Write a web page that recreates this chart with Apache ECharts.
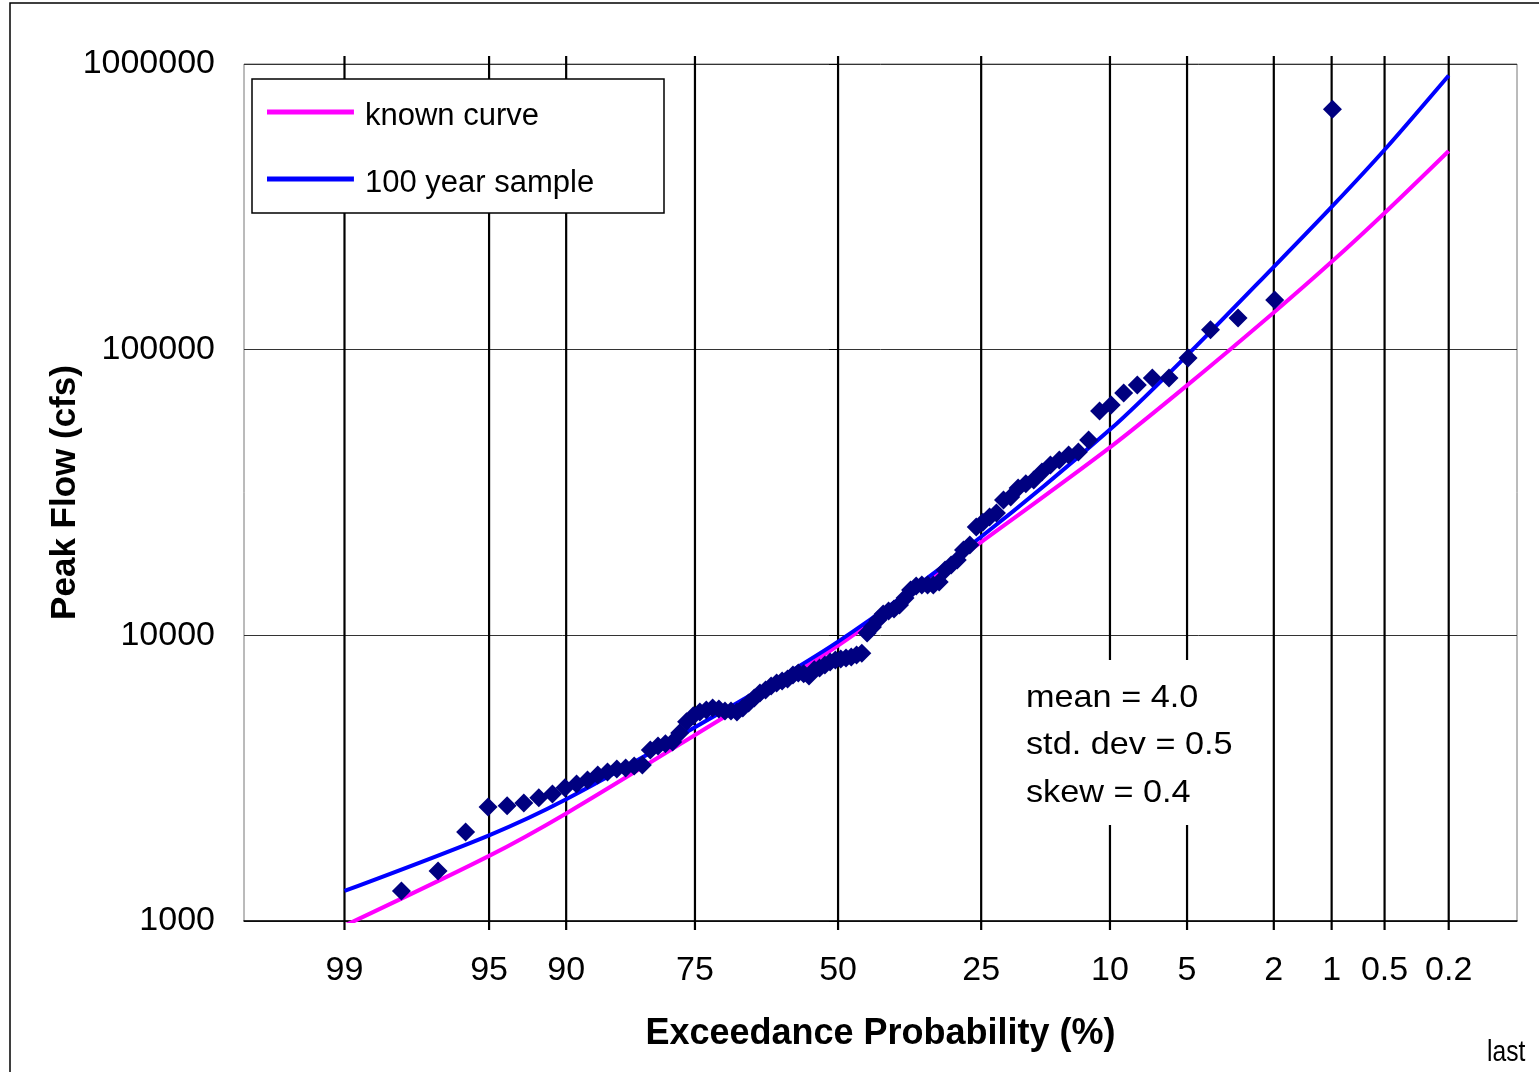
<!DOCTYPE html>
<html><head><meta charset="utf-8">
<script src="https://cdn.jsdelivr.net/npm/echarts@6/dist/echarts.min.js"></script>
<style>html,body{margin:0;padding:0;background:#fff}#c{width:1539px;height:1072px}</style>
</head><body><div id="c"></div>
<script>
// exceedance probability grid lines (%) and their labels
const probTicks = [99, 95, 90, 75, 50, 25, 10, 5, 2, 1, 0.5, 0.2];
const probTickLabels = ['99', '95', '90', '75', '50', '25', '10', '5', '2', '1', '0.5', '0.2'];
const flowTicks = [1000, 10000, 100000, 1000000];
// fitted curves read at each probability line (cfs)
const knownCurve = [963, 1690, 2380, 4480, 9200, 21200, 45500, 75000, 135000, 203000, 301000, 496000];
const sampleCurve = [1274, 1995, 2667, 4764, 9506, 22130, 52500, 95500, 195000, 316000, 501000, 912000];
// sample points: exceedance probability (%) and peak flow (cfs)
const sampleProb = [0.99,1.98,2.97,3.96,4.95,5.94,6.93,7.92,8.91,9.90,10.89,11.88,12.87,13.86,14.85,15.84,16.83,17.82,18.81,19.80,20.79,21.78,22.77,23.76,24.75,25.74,26.73,27.72,28.71,29.70,30.69,31.68,32.67,33.66,34.65,35.64,36.63,37.62,38.61,39.60,40.59,41.58,42.57,43.56,44.55,45.54,46.53,47.52,48.51,49.50,50.50,51.49,52.48,53.47,54.46,55.45,56.44,57.43,58.42,59.41,60.40,61.39,62.38,63.37,64.36,65.35,66.34,67.33,68.32,69.31,70.30,71.29,72.28,73.27,74.26,75.25,76.24,77.23,78.22,79.21,80.20,81.19,82.18,83.17,84.16,85.15,86.14,87.13,88.12,89.11,90.10,91.09,92.08,93.07,94.06,95.05,96.04,97.03,98.02];
const sampleFlow = [695000,149300,129000,117300,93500,79600,79600,75200,70500,64000,60950,48300,43850,42800,41100,39500,37300,35000,33900,32800,30500,29750,26800,25950,24900,23950,20700,19900,18350,17640,16940,15380,15000,15000,15000,14890,14420,13520,12770,12370,12170,11880,11320,10690,10190,8660,8530,8400,8330,8265,8200,8070,7870,7690,7570,7210,7330,7385,7265,7035,6925,6810,6650,6440,6285,6035,5800,5570,5395,5435,5435,5520,5570,5480,5395,5225,4980,4550,4235,4170,4100,3970,3515,3490,3435,3405,3325,3245,3115,3020,2925,2785,2700,2590,2530,2508,2050,1496,1274];

// normal probability scale: exceedance % -> standard normal variate
function invNorm(p) {
  const a=[-3.969683028665376e+01,2.209460984245205e+02,-2.759285104469687e+02,1.383577518672690e+02,-3.066479806614716e+01,2.506628277459239e+00];
  const b=[-5.447609879822406e+01,1.615858368580409e+02,-1.556989798598866e+02,6.680131188771972e+01,-1.328068155288572e+01];
  const c=[-7.784894002430293e-03,-3.223964580411365e-01,-2.400758277161838e+00,-2.549671010739305e+00,4.374664141464968e+00,2.938163982698783e+00];
  const d=[7.784695709041462e-03,3.224671290700398e-01,2.445134137142996e+00,3.754408160336069e+00];
  const pl=0.02425, ph=1-pl; let q, r;
  if (p < pl) { q=Math.sqrt(-2*Math.log(p)); return (((((c[0]*q+c[1])*q+c[2])*q+c[3])*q+c[4])*q+c[5])/((((d[0]*q+d[1])*q+d[2])*q+d[3])*q+1); }
  if (p <= ph) { q=p-0.5; r=q*q; return (((((a[0]*r+a[1])*r+a[2])*r+a[3])*r+a[4])*r+a[5])*q/(((((b[0]*r+b[1])*r+b[2])*r+b[3])*r+b[4])*r+1); }
  q=Math.sqrt(-2*Math.log(1-p)); return -(((((c[0]*q+c[1])*q+c[2])*q+c[3])*q+c[4])*q+c[5])/((((d[0]*q+d[1])*q+d[2])*q+d[3])*q+1);
}
const zOf = e => invNorm(1 - e / 100);
const tickZ = probTicks.map(zOf);

const ARIAL = "'Liberation Sans',Arial,sans-serif";

const chart = echarts.init(document.getElementById('c'), null, {renderer: 'canvas'});
chart.setOption({
  animation: false,
  backgroundColor: '#fff',
  grid: {left: 244, right: 22, top: 64, bottom: 151, show: true, borderColor: '#777', borderWidth: 1},
  xAxis: {
    type: 'value', min: -2.8, max: 3.2,
    name: 'Exceedance Probability (%)', nameLocation: 'middle', nameGap: 95, nameMoveOverlap: false,
    nameTextStyle: {fontFamily: ARIAL, fontWeight: 'bold', fontSize: 36, color: '#000'},
    axisLine: {show: true, lineStyle: {color: '#000', width: 1.5}},
    axisTick: {show: false},
    splitLine: {show: false},
    axisLabel: {
      show: true, customValues: tickZ, margin: 33, fontFamily: ARIAL, fontSize: 34, color: '#000',
      formatter: v => { const i = tickZ.findIndex(t => Math.abs(t - v) < 1e-6); return i >= 0 ? probTickLabels[i] : ''; }
    }
  },
  yAxis: {
    type: 'log', logBase: 10, min: flowTicks[0], max: flowTicks[flowTicks.length - 1],
    name: 'Peak Flow (cfs)', nameLocation: 'middle', nameGap: 161, nameRotate: 90, nameMoveOverlap: false,
    nameTextStyle: {fontFamily: ARIAL, fontWeight: 'bold', fontSize: 35, color: '#000'},
    axisLine: {show: true, lineStyle: {color: '#000', width: 1.5}},
    axisTick: {show: true, length: 9, inside: false, lineStyle: {color: '#000', width: 1}},
    axisLabel: {margin: 29, fontFamily: ARIAL, fontSize: 34, color: '#000', formatter: v => String(Math.round(v))},
    splitLine: {show: true, lineStyle: {color: '#333', width: 1}}
  },
  legend: {
    data: ['known curve', '100 year sample'],
    orient: 'vertical', left: 267, top: 99, padding: 0, z: 100,
    icon: 'path://M0,0H87V5H0Z M0,13H0.01V13.01H0Z', itemWidth: 87, itemHeight: 13, itemGap: 33,
    textStyle: {fontFamily: ARIAL, fontSize: 31, color: '#000', lineHeight: 34, padding: [0, 0, 0, 6]},
    selectedMode: false
  },
  graphic: [
    {type: 'rect', z: 50, shape: {x: 10, y: 3, width: 1700, height: 1300}, style: {fill: 'none', stroke: '#000', lineWidth: 1.5}, silent: true},
    {type: 'rect', z: 90, shape: {x: 252, y: 79, width: 412, height: 134}, style: {fill: '#fff', stroke: '#000', lineWidth: 1.5}, silent: true},
    {type: 'rect', z: 90, shape: {x: 1012, y: 660, width: 228, height: 165}, style: {fill: '#fff', stroke: null}, silent: true},
    {type: 'text', z: 95, x: 1026, y: 674, scaleX: 1.07, style: {text: 'mean = 4.0\nstd. dev = 0.5\nskew = 0.4', font: "32px " + ARIAL, lineHeight: 47.5, fill: '#000', textAlign: 'left', textVerticalAlign: 'top'}, silent: true},
    {type: 'text', z: 95, x: 1487, y: 1053, scaleX: 0.85, style: {text: 'last', font: "29px " + ARIAL, fill: '#000', textAlign: 'left', textVerticalAlign: 'middle'}, silent: true}
  ],
  series: [
    {
      type: 'custom', name: 'gridlines', silent: true, z: 1, clip: false,
      data: tickZ.map(z => [z, flowTicks[0]]),
      renderItem: (params, api) => {
        const x = api.value(0);
        const top = api.coord([x, flowTicks[flowTicks.length - 1]]);
        const bot = api.coord([x, flowTicks[0]]);
        return {type: 'line', shape: {x1: top[0], y1: top[1] - 8, x2: bot[0], y2: bot[1] + 9}, style: {stroke: '#000', lineWidth: 2.2}};
      }
    },
    {
      type: 'line', name: 'known curve', z: 3, smooth: 0.3, showSymbol: false, symbol: 'none',
      color: '#FF00FF', lineStyle: {color: '#FF00FF', width: 4},
      data: tickZ.map((z, i) => [z, knownCurve[i]])
    },
    {
      type: 'line', name: '100 year sample', z: 4, smooth: 0.3, showSymbol: false, symbol: 'none',
      color: '#0000FF', lineStyle: {color: '#0000FF', width: 4},
      data: tickZ.map((z, i) => [z, sampleCurve[i]])
    },
    {
      type: 'scatter', name: 'sample', z: 5, symbol: 'diamond', symbolSize: 19,
      itemStyle: {color: '#000080', opacity: 1},
      data: sampleProb.map((p, i) => [zOf(p), sampleFlow[i]])
    }
  ]
});
</script></body></html>
